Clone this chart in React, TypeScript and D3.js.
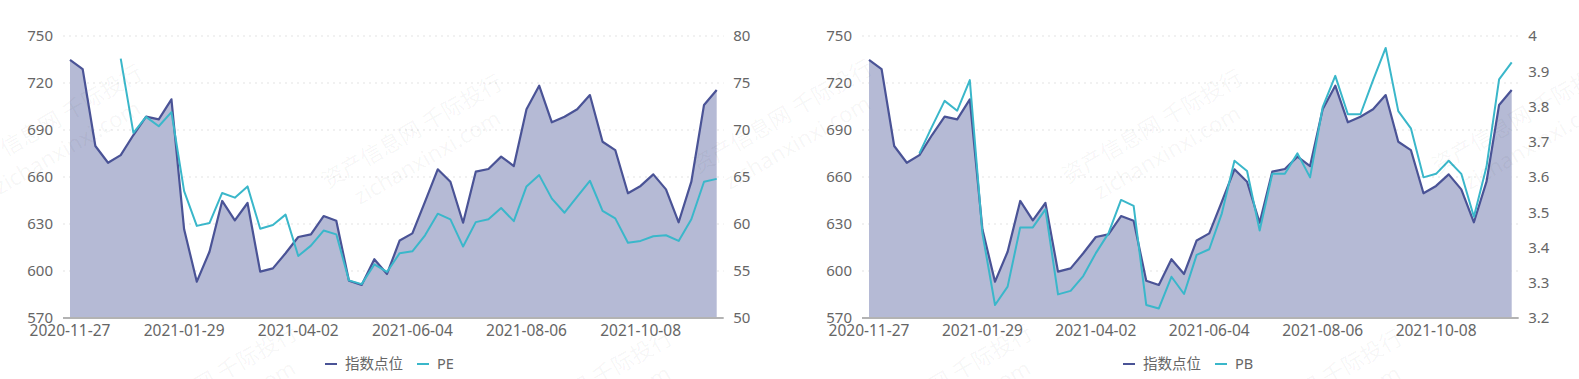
import React from "react";
import * as d3 from "d3";

const START_DATE = "2020-11-27";
const TICK_LABELS = ["2020-11-27", "2021-01-29", "2021-04-02", "2021-06-04", "2021-08-06", "2021-10-08"];

const indexValues: number[] = [
  734.7, 728.9, 679.8, 669.1, 674.0, 686.8, 698.5, 696.8, 709.6, 626.6,
  593.2, 612.3, 644.7, 632.3, 643.4, 599.6, 601.7, 611.3, 621.7, 623.4,
  635.1, 632.1, 593.8, 591.1, 607.5, 598.1, 619.5, 624.0, 644.3, 664.9,
  657.0, 630.8, 663.4, 665.1, 673.0, 667.0, 703.2, 718.3, 694.9, 698.5,
  703.2, 712.3, 682.5, 677.2, 649.6, 654.3, 661.7, 652.1, 631.1, 657.0,
  706.0, 715.5,
];

const peValues: (number | null)[] = [
  null, null, null, null, 77.6, 69.7, 71.4, 70.4, 71.9, 63.5,
  59.8, 60.1, 63.3, 62.8, 64.0, 59.5, 59.9, 61.0, 56.6, 57.7,
  59.3, 58.9, 54.0, 53.6, 55.7, 54.9, 56.9, 57.1, 58.8, 61.1,
  60.5, 57.6, 60.2, 60.5, 61.7, 60.3, 64.0, 65.2, 62.7, 61.2,
  62.9, 64.6, 61.4, 60.6, 58.0, 58.2, 58.7, 58.8, 58.2, 60.5,
  64.5, 64.8,
];

const pbValues: (number | null)[] = [
  null, null, null, null, 3.667, 3.743, 3.816, 3.788, 3.875, 3.44,
  3.237, 3.289, 3.457, 3.457, 3.508, 3.267, 3.277, 3.319, 3.384, 3.44,
  3.535, 3.518, 3.237, 3.227, 3.317, 3.268, 3.379, 3.395, 3.497, 3.646,
  3.617, 3.448, 3.609, 3.609, 3.667, 3.599, 3.798, 3.887, 3.778, 3.778,
  3.875, 3.966, 3.787, 3.738, 3.599, 3.609, 3.646, 3.609, 3.487, 3.629,
  3.877, 3.925,
];

const leftTicks = [570, 600, 630, 660, 690, 720, 750];
const peTicks = [50, 55, 60, 65, 70, 75, 80];
const pbTicks = [3.2, 3.3, 3.4, 3.5, 3.6, 3.7, 3.8, 3.9, 4];

const fmtDate = d3.timeFormat("%Y-%m-%d");
const parseDate = d3.timeParse("%Y-%m-%d");
const dates: string[] = indexValues.map((_, i) =>
  fmtDate(d3.timeDay.offset(parseDate(START_DATE) as Date, i * 7))
);

const FONT = "'Noto Sans', 'Noto Sans CJK SC', sans-serif";
const TEXT_COLOR = "#666";
const INDEX_COLOR = "#4a5396";
const FILL_COLOR = "#b5bad5";
const RATIO_COLOR = "#3ab7ca";

interface ChartProps {
  x0: number;
  x1: number;
  ratio: (number | null)[];
  ratioName: string;
  ratioTicks: number[];
  ratioDomain: [number, number];
  ratioFmt: (v: number) => string;
  legendX: number;
}

const TOP = 36;
const BOTTOM = 318;

function Chart({ x0, x1, ratio, ratioName, ratioTicks, ratioDomain, ratioFmt, legendX }: ChartProps) {
  const x = d3.scalePoint<string>().domain(dates).range([x0, x1]);
  const yL = d3.scaleLinear().domain([570, 750]).range([BOTTOM, TOP]);
  const yR = d3.scaleLinear().domain(ratioDomain).range([BOTTOM, TOP]);

  const area = d3
    .area<number>()
    .x((_, i) => x(dates[i]) as number)
    .y0(BOTTOM)
    .y1((d) => yL(d));
  const line = d3
    .line<number>()
    .x((_, i) => x(dates[i]) as number)
    .y((d) => yL(d));
  const rline = d3
    .line<number | null>()
    .defined((d) => d != null)
    .x((_, i) => x(dates[i]) as number)
    .y((d) => yR(d as number));

  const gx0 = x0 - 7;
  const gx1 = x1 + 7;

  return (
    <g>
      {leftTicks.slice(1).map((t) => (
        <line key={t} x1={gx0} x2={gx1} y1={yL(t)} y2={yL(t)} stroke="#e3e3e3" strokeWidth={1} strokeDasharray="2,4" />
      ))}
      <path d={area(indexValues) || ""} fill={FILL_COLOR} />
      <line x1={gx0} x2={gx1} y1={BOTTOM} y2={BOTTOM} stroke="#b3b3b3" strokeWidth={2} />
      <path d={line(indexValues) || ""} fill="none" stroke={INDEX_COLOR} strokeWidth={2.2} strokeLinejoin="round" />
      <path d={rline(ratio) || ""} fill="none" stroke={RATIO_COLOR} strokeWidth={2} strokeLinejoin="round" />
      {leftTicks.map((t) => (
        <text key={t} x={x0 - 17} y={yL(t)} dy="0.35em" textAnchor="end" fontSize={15} fill={TEXT_COLOR} fontFamily={FONT}>
          {t}
        </text>
      ))}
      {ratioTicks.map((t) => (
        <text key={t} x={x1 + 16.5} y={yR(t)} dy="0.35em" textAnchor="start" fontSize={15} fill={TEXT_COLOR} fontFamily={FONT}>
          {ratioFmt(t)}
        </text>
      ))}
      {TICK_LABELS.map((t) => (
        <text key={t} x={x(t) as number} y={331} dy="0.35em" textAnchor="middle" fontSize={15.5} fill={TEXT_COLOR} fontFamily={FONT}>
          {t}
        </text>
      ))}
      <g transform={`translate(${legendX},364)`}>
        <line x1={0} x2={12} y1={0} y2={0} stroke={INDEX_COLOR} strokeWidth={2} />
        <text x={20} y={0} dy="0.35em" fontSize={14.5} fill={TEXT_COLOR} fontFamily={FONT}>
          指数点位
        </text>
        <line x1={92} x2={104} y1={0} y2={0} stroke={RATIO_COLOR} strokeWidth={2} />
        <text x={112} y={0} dy="0.35em" fontSize={14.5} fill={TEXT_COLOR} fontFamily={FONT}>
          {ratioName}
        </text>
      </g>
    </g>
  );
}

const WATERMARKS: [number, number][] = [
  [60, 135], [420, 145], [790, 130], [1160, 140], [1530, 130],
  [215, 395], [590, 400], [950, 395], [1320, 400],
];

export default function App() {
  return (
    <svg width={1579} height={379} style={{ display: "block", position: "absolute", left: 0, top: 0 }}>
      <rect width={1579} height={379} fill="#fff" />
      <Chart
        x0={70}
        x1={716.7}
        ratio={peValues}
        ratioName="PE"
        ratioTicks={peTicks}
        ratioDomain={[50, 80]}
        ratioFmt={(v) => String(v)}
        legendX={325}
      />
      <Chart
        x0={869}
        x1={1511.7}
        ratio={pbValues}
        ratioName="PB"
        ratioTicks={pbTicks}
        ratioDomain={[3.2, 4]}
        ratioFmt={(v) => String(+v.toFixed(1))}
        legendX={1123}
      />
      {WATERMARKS.map(([cx, cy], i) => (
        <g key={i} transform={`translate(${cx},${cy}) rotate(-30)`} fill="#000" fillOpacity={0.045} fontFamily={FONT}>
          <text x={0} y={-8} textAnchor="middle" fontSize={22}>资产信息网 千际投行</text>
          <text x={0} y={22} textAnchor="middle" fontSize={22}>zichanxinxi.com</text>
        </g>
      ))}
    </svg>
  );
}
